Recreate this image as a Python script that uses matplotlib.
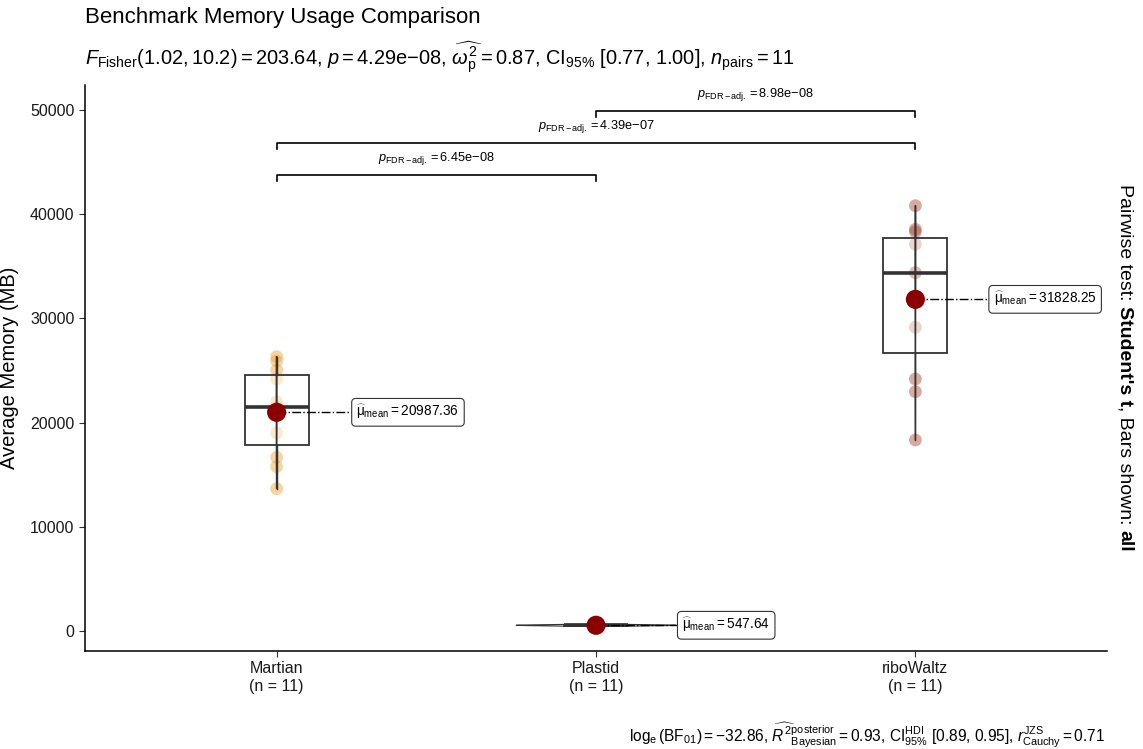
import matplotlib
matplotlib.use("Agg")
import matplotlib.pyplot as plt
import numpy as np

plt.rcParams['font.family'] = ['Liberation Sans', 'DejaVu Sans']
plt.rcParams['mathtext.fontset'] = 'custom'
plt.rcParams['mathtext.rm'] = 'Liberation Sans'
plt.rcParams['mathtext.it'] = 'Liberation Sans:italic'
plt.rcParams['mathtext.bf'] = 'Liberation Sans:bold'
plt.rcParams['mathtext.sf'] = 'Liberation Sans'

# data
groups = ["Martian", "Plastid", "riboWaltz"]
martian = [26325, 25912, 25048, 24184, 22006, 21526, 20764, 19002, 16670, 15768, 13656]
plastid = [452, 488, 510, 527, 540, 548, 556, 571, 590, 602, 640]
ribowaltz = [40816, 38550, 38320, 37110, 34390, 34390, 31909, 29146, 24184, 22966, 18330]
means = [20987.36, 547.64, 31828.25]
pair_groups = [(1, 2), (1, 3), (2, 3)]
pair_p = ["6.45", "4.39", "8.98"]
pair_exp = ["08", "07", "08"]
bracket_y = [43760, 46830, 49900]

point_colors = ["#F0A030", "#6E8B5A", "#A8452F"]
label_dx = [0.25, 0.27, 0.245]
violin_widths = [0.003, 0.5, 0.003]

data = [martian, plastid, ribowaltz]
pos = np.arange(1, len(groups) + 1)

fig = plt.figure(figsize=(11.43, 7.49), dpi=100)
ax = fig.add_axes([85 / 1143, 98 / 749, (1107 - 85) / 1143, (651 - 85) / 749])

# raw points
for x, vals, c in zip(pos, data, point_colors):
    ax.scatter([x] * len(vals), vals, s=85, color=c, alpha=0.45, edgecolors='none', zorder=2)

# boxes
bp = ax.boxplot(data, positions=pos, widths=0.2, patch_artist=True, showcaps=False,
                showfliers=False, whis=1.5,
                medianprops=dict(color='#333333', lw=2.6),
                boxprops=dict(facecolor=(1, 1, 1, 0.5), edgecolor='#333333', lw=1.3),
                whiskerprops=dict(color='#333333', lw=1.0), zorder=3)

# violins (area scaled -> only Plastid shows width)
vp = ax.violinplot(data, positions=pos, widths=violin_widths, showextrema=False)
for b in vp['bodies']:
    b.set_facecolor('none')
    b.set_edgecolor('#333333')
    b.set_linewidth(0.8)
    b.set_alpha(1)
    b.set_zorder(4)

# means
for x, m, dx in zip(pos, means, label_dx):
    ax.plot([x, x + dx], [m, m], ls='-.', color='black', lw=1.0, zorder=5)
    ax.scatter([x], [m], s=190, color='#8B0000', zorder=6, edgecolors='none')
    ax.text(x + dx, m, r"$\widehat{\mathrm{\mu}}_{\mathrm{mean}}=%.2f$" % m, ha='left', va='center',
            fontsize=9.8, zorder=7,
            bbox=dict(boxstyle='round,pad=0.35,rounding_size=0.3', fc='white', ec='#333333', lw=0.8))

# pairwise brackets
tick = 600
for (a, b), p, e, yb in zip(pair_groups, pair_p, pair_exp, bracket_y):
    ax.plot([a, a, b, b], [yb - tick, yb, yb, yb - tick], color='black', lw=1.2, zorder=3)
    ax.text((a + b) / 2, yb + 750, r"$p_{\mathrm{FDR-adj.}} = %s\mathrm{e}{-}%s$" % (p, e),
            ha='center', va='bottom', fontsize=9.2)

ax.set_xlim(0.4, 3.6)
ax.set_ylim(-1920, 52400)
ax.set_xticks(pos)
ax.set_xticklabels([f"{g}\n(n = {len(v)})" for g, v in zip(groups, data)], fontsize=11.5)
ax.set_yticks([0, 10000, 20000, 30000, 40000, 50000])
ax.set_yticklabels(["0", "10000", "20000", "30000", "40000", "50000"], fontsize=11.5)
ax.tick_params(length=4, width=0.8, color='#333333', labelcolor='#1a1a1a')
for s in ['top', 'right']:
    ax.spines[s].set_visible(False)
for s in ['left', 'bottom']:
    ax.spines[s].set_linewidth(1.1)
ax.set_ylabel("Average Memory (MB)", fontsize=14.5, labelpad=8)

fig.text(85 / 1143, 1 - 18 / 749, "Benchmark Memory Usage Comparison", fontsize=16,
         ha='left', va='center')
fig.text(85 / 1143, 1 - 58 / 749,
         r"$F_{\mathrm{Fisher}}(1.02, 10.2) = 203.64$, $p = 4.29\mathrm{e}{-}08$, "
         r"$\widehat{\omega_{\mathrm{p}}^{2}} = 0.87$, CI$_{95\%}$ [0.77, 1.00], $n_{\mathrm{pairs}} = 11$",
         fontsize=14.4, ha='left', va='center')
fig.text(1105 / 1143, 1 - 735 / 749,
         r"$\log_{\mathrm{e}}(\mathrm{BF}_{01}) = -32.86$, "
         r"$\widehat{R^{2}}_{\mathrm{Bayesian}}^{\mathrm{posterior}} = 0.93$, "
         r"CI$_{95\%}^{\mathrm{HDI}}$ [0.89, 0.95], $r_{\mathrm{Cauchy}}^{\mathrm{JZS}} = 0.71$",
         fontsize=11.2, ha='right', va='center')

# right-side caption with mixed weights, rotated
parts = [("Pairwise test: ", 'normal'), ("Student's t", 'bold'),
         (", Bars shown: ", 'normal'), ("all", 'bold')]
fig.canvas.draw()
r = fig.canvas.get_renderer()
texts = []
heights = []
for s, w in parts:
    t = fig.text(0, 0, s, fontsize=14, fontweight=w, rotation=-90, ha='center', va='top')
    texts.append(t)
    heights.append(t.get_window_extent(r).height)
total = sum(heights)
ytop = (749 - 368) + total / 2
for t, h in zip(texts, heights):
    t.set_position((1125 / 1143, ytop / 749))
    ytop -= h

fig.savefig("out.png", dpi=100)
